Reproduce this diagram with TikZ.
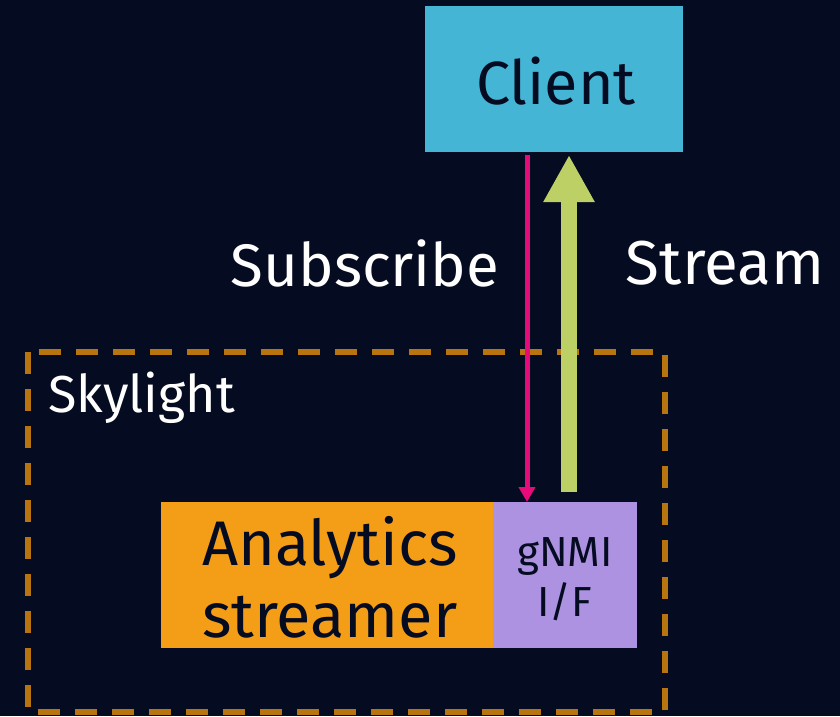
\documentclass[tikz,border=0pt]{standalone}
\usepackage{fontspec}
\setmainfont{Fira Sans}
\usetikzlibrary{arrows.meta}
\definecolor{bg}{HTML}{050B20}
\definecolor{clientc}{HTML}{45B5D6}
\definecolor{orangec}{HTML}{F49E17}
\definecolor{purplec}{HTML}{AC92E0}
\definecolor{greenc}{HTML}{BCD065}
\definecolor{pinkc}{HTML}{E8097A}
\definecolor{dashc}{HTML}{B8740E}
\tikzset{
  box/.style={draw=none, inner sep=0pt, text=bg, align=center},
  lbl/.style={text=white, inner sep=0pt},
}
\begin{document}
\begin{tikzpicture}[x=1pt,y=-1pt]
\useasboundingbox[fill=bg] (0,0) rectangle (840,716);
% dashed Skylight container
\draw[dashc, line width=6pt, dash pattern=on 22pt off 15pt] (28,352) rectangle (665,712);
\node[lbl, anchor=west, font=\fontsize{52}{56}\selectfont] (sky) at (48,398) {Skylight};
% Client
\node[box, fill=clientc, minimum width=258pt, minimum height=146pt] (client) at (554,79) {};
\node[text=bg, inner sep=0pt, font=\fontsize{61}{64}\selectfont] (clientt) at (556,81) {Client};
% Analytics streamer
\node[box, fill=orangec, minimum width=332pt, minimum height=146pt] (ana) at (327,575) {};
\node[text=bg, inner sep=0pt, align=center, font=\fontsize{63}{72}\selectfont] (anat) at (330,577) {Analytics\\streamer};
\node[box, fill=purplec, minimum width=144pt, minimum height=146pt] (gnmi) at (565,575) {};
\node[text=bg, inner sep=0pt, align=center, font=\fontsize{42}{50}\selectfont] (gnmit) at (565,579) {gNMI\\I/F};
% connectors
\coordinate (pinkTop) at (527,155);
\coordinate (pinkBot) at (527,502);
\draw[pinkc, line width=5pt, -{Triangle[length=15pt,width=16pt]}] (pinkTop) -- (pinkBot);
\coordinate (grBot) at (569,492);
\coordinate (grTop) at (569,155);
\draw[greenc, line width=16pt, -{Triangle[length=47pt,width=48pt]}] (grBot) -- (grTop);
\node[lbl, font=\fontsize{60}{64}\selectfont] (sub) at (365,263) {Subscribe};
\node[lbl, font=\fontsize{62}{64}\selectfont] (str) at (725,263) {Stream};
\end{tikzpicture}
\end{document}
